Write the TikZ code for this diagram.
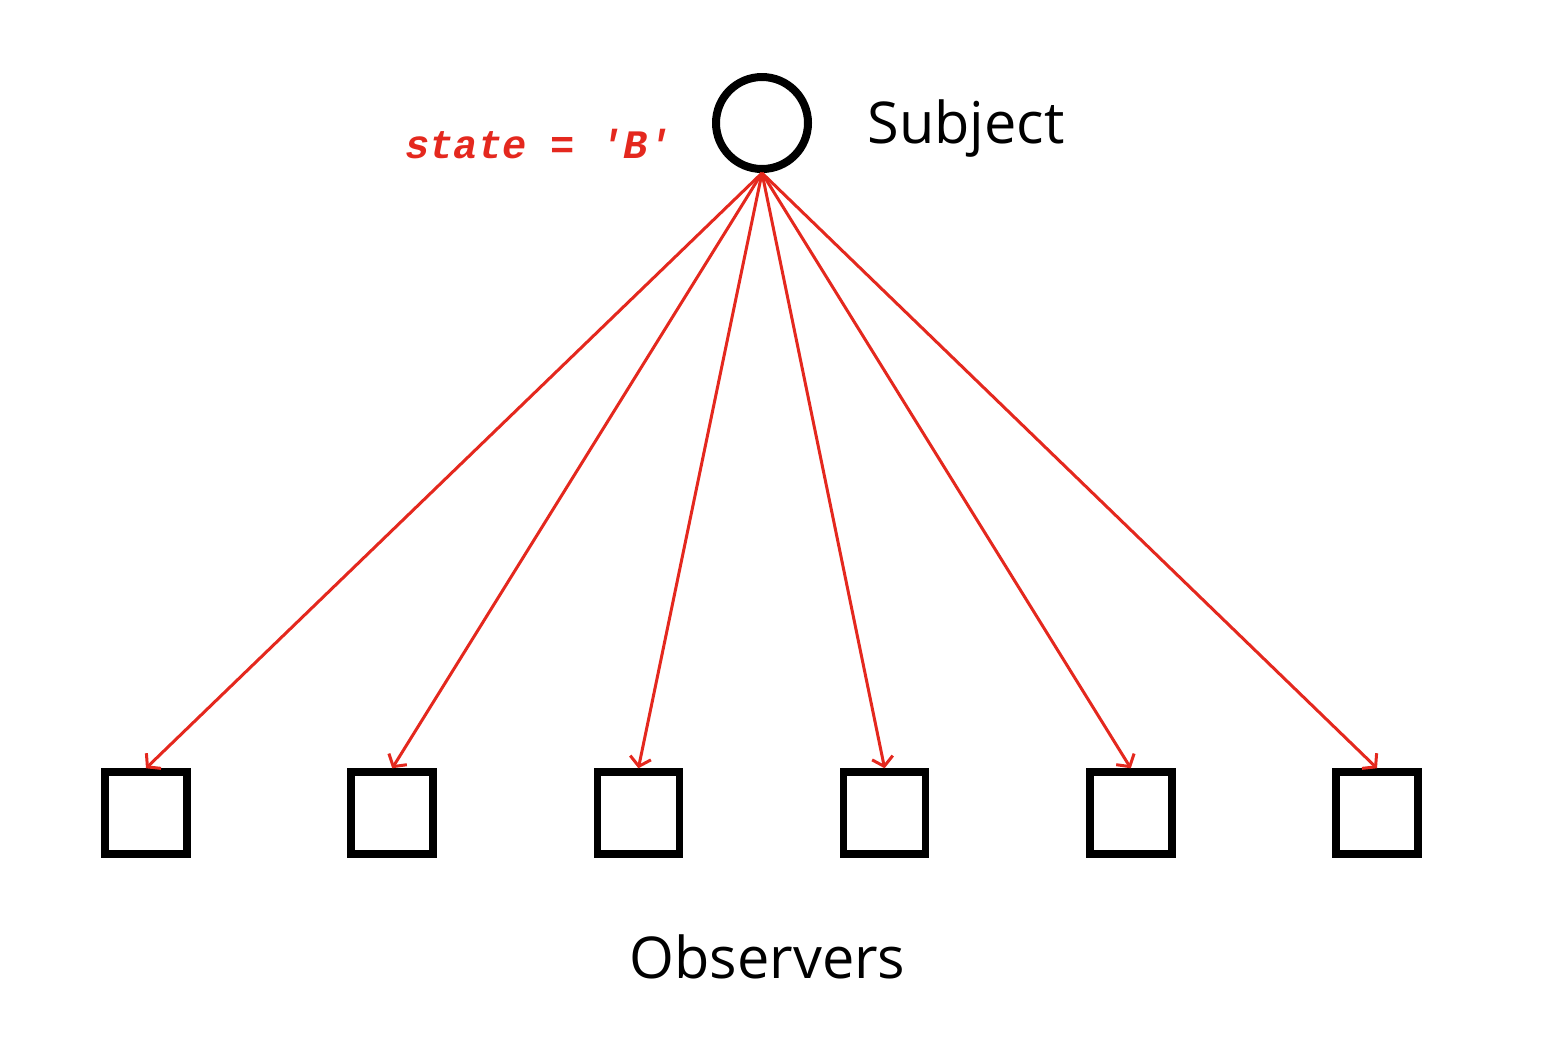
\documentclass[tikz,border=0pt]{standalone}
\usepackage{fontspec}
\setmainfont{Open Sans}
\newfontfamily\codefont{Liberation Mono}
\usepackage{tikz}
\usetikzlibrary{arrows.meta}
\definecolor{arrowred}{RGB}{228,40,30}

\begin{document}
\begin{tikzpicture}
		\tikzset{subjectvertex/.style = {shape=circle,draw,line width=0.16cm,minimum size=1.84cm,inner sep=0pt}}
		\tikzset{observer/.style = {shape=rectangle,draw,line width=0.15cm,minimum size=1.64cm,inner sep=0pt}}
		\tikzset{edge/.style = {arrowred,line width=0.06cm,-{Straight Barb[length=5pt,width=12pt]}}}
		\tikzset{label/.style = {font=\fontsize{32.8}{38}\selectfont,inner sep=0pt}}
		\useasboundingbox (0,0) rectangle (30.88,-21.06);
		% vertices
		\node[subjectvertex] (subj) at (15.24, -2.46) {};
		\node[observer] (o1) at (2.92, -16.26) {};
		\node[observer] (o2) at (7.844, -16.26) {};
		\node[observer] (o3) at (12.768, -16.26) {};
		\node[observer] (o4) at (17.692, -16.26) {};
		\node[observer] (o5) at (22.616, -16.26) {};
		\node[observer] (o6) at (27.54, -16.26) {};
		% labels
		\node[label, anchor=base west] (subjtext) at (17.34, -2.86) {Subject};
		\node[label, anchor=base] (obstext) at (15.35, -19.56) {Observers};
		\node[anchor=base west, inner sep=0pt, text=arrowred, font=\codefont\bfseries\itshape\fontsize{23}{27}\selectfont] (state) at (8.1, -3.16) {state = 'B'};
		% edges
		\draw[edge] (subj.south) -- (o1.north);
		\draw[edge] (subj.south) -- (o2.north);
		\draw[edge] (subj.south) -- (o3.north);
		\draw[edge] (subj.south) -- (o4.north);
		\draw[edge] (subj.south) -- (o5.north);
		\draw[edge] (subj.south) -- (o6.north);
\end{tikzpicture}
\end{document}
